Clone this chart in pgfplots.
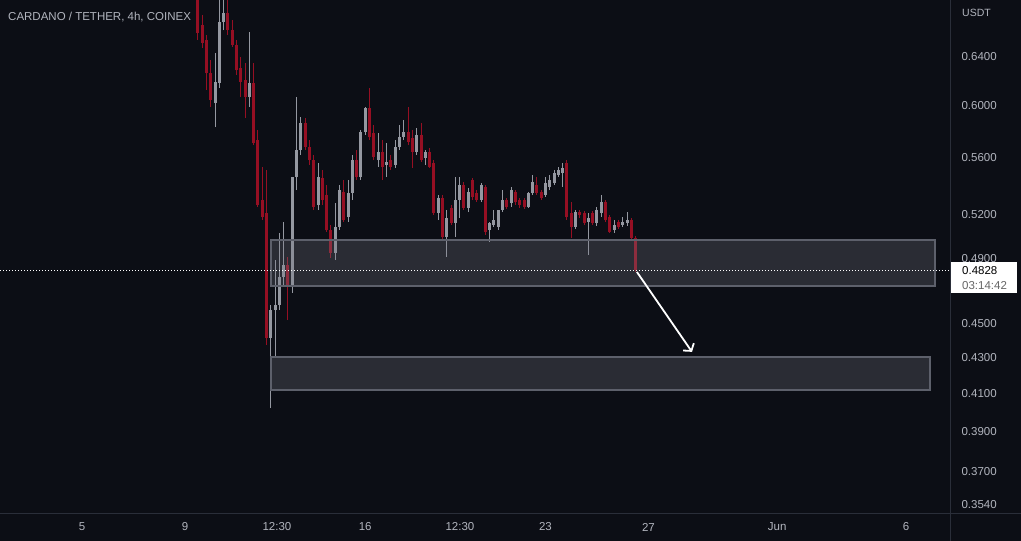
\documentclass[border=0pt]{standalone}
\usepackage{pgfplots}
\pgfplotsset{compat=1.18}
\usepackage{pgfplotstable}
\usepackage{fontspec}
\setmainfont{Liberation Sans}
\usetikzlibrary{arrows.meta}

\definecolor{bg}{HTML}{0C0E15}
\definecolor{axtext}{HTML}{B2B5BE}
\definecolor{sepcol}{HTML}{2A2E39}
\definecolor{upcol}{HTML}{9598A1}
\definecolor{downcol}{HTML}{960F23}
\definecolor{zonefill}{HTML}{787B86}
\definecolor{zoneedge}{HTML}{5D606B}

% 4h candles, i = candle number from 9 May 12:00
\pgfplotstableread{
i o h l c
4 0.6022 0.6434 0.5834 0.6193
5 0.6184 0.6947 0.6143 0.6703
6 0.6703 0.6993 0.6633 0.6783
12 0.6070 0.6616 0.5991 0.6184
17 0.4415 0.4612 0.4024 0.4581
18 0.4581 0.4894 0.4305 0.4612
19 0.4612 0.5072 0.4581 0.4785
20 0.4785 0.5146 0.4735 0.4862
22 0.4723 0.4927 0.4685 0.5462
23 0.5462 0.6070 0.5368 0.5660
24 0.5660 0.5912 0.5623 0.5866
28 0.5263 0.5563 0.5228 0.5462
32 0.4940 0.5277 0.4894 0.5112
33 0.5112 0.5404 0.5092 0.5368
35 0.5180 0.5440 0.5146 0.5347
36 0.5347 0.5623 0.5298 0.5585
38 0.5462 0.5811 0.5440 0.5796
39 0.5796 0.5991 0.5773 0.5983
42 0.5585 0.5788 0.5534 0.5645
44 0.5549 0.5713 0.5462 0.5570
46 0.5549 0.5735 0.5527 0.5683
47 0.5683 0.5850 0.5660 0.5758
48 0.5758 0.5889 0.5735 0.5796
51 0.5645 0.5827 0.5623 0.5773
53 0.5600 0.5660 0.5549 0.5645
56 0.5208 0.5333 0.5160 0.5312
58 0.5045 0.5228 0.4914 0.5174
60 0.5140 0.5462 0.5045 0.5298
61 0.5298 0.5462 0.5174 0.5404
63 0.5242 0.5382 0.5214 0.5354
66 0.5298 0.5418 0.5284 0.5404
68 0.5092 0.5146 0.5012 0.5140
69 0.5126 0.5228 0.5112 0.5160
70 0.5112 0.5228 0.5092 0.5228
71 0.5228 0.5368 0.5214 0.5298
73 0.5277 0.5390 0.5249 0.5368
77 0.5249 0.5354 0.5242 0.5347
78 0.5347 0.5476 0.5333 0.5426
81 0.5333 0.5462 0.5319 0.5418
82 0.5390 0.5476 0.5368 0.5440
83 0.5418 0.5512 0.5404 0.5490
84 0.5476 0.5534 0.5462 0.5512
85 0.5490 0.5563 0.5390 0.5527
88 0.5112 0.5228 0.5099 0.5214
91 0.5146 0.5208 0.4927 0.5174
93 0.5140 0.5249 0.5119 0.5228
94 0.5208 0.5333 0.5180 0.5284
97 0.5092 0.5160 0.5072 0.5126
99 0.5126 0.5180 0.5112 0.5146
100 0.5140 0.5214 0.5119 0.5160
}\upcandles

\pgfplotstableread{
i o h l c
0 0.7040 0.7133 0.6546 0.6607
1 0.6677 0.6766 0.6477 0.6520
2 0.6546 0.6590 0.6127 0.6266
3 0.6266 0.6375 0.5991 0.6046
7 0.6783 0.6901 0.6590 0.6633
8 0.6633 0.6721 0.6486 0.6503
9 0.6503 0.6546 0.6250 0.6291
10 0.6308 0.6400 0.6070 0.6193
11 0.6209 0.6350 0.5905 0.6070
13 0.6184 0.6350 0.5697 0.5712
14 0.5735 0.5811 0.5249 0.5263
15 0.5298 0.5534 0.5160 0.5180
16 0.5208 0.5512 0.4374 0.4415
21 0.4862 0.4914 0.4521 0.4723
25 0.5866 0.5905 0.5660 0.5683
26 0.5683 0.5735 0.5549 0.5585
27 0.5585 0.5623 0.5228 0.5249
29 0.5454 0.5512 0.5263 0.5298
30 0.5333 0.5404 0.5079 0.5092
31 0.5092 0.5126 0.4907 0.4940
34 0.5354 0.5440 0.5146 0.5160
37 0.5585 0.5660 0.5440 0.5462
40 0.5983 0.6143 0.5735 0.5758
41 0.5788 0.5850 0.5585 0.5608
43 0.5645 0.5735 0.5440 0.5534
45 0.5585 0.5623 0.5512 0.5534
49 0.5796 0.5991 0.5697 0.5720
50 0.5750 0.5811 0.5527 0.5645
52 0.5773 0.5866 0.5570 0.5585
54 0.5645 0.5675 0.5527 0.5534
55 0.5563 0.5585 0.5194 0.5208
57 0.5312 0.5333 0.5025 0.5045
59 0.5242 0.5263 0.5126 0.5140
62 0.5404 0.5426 0.5228 0.5242
64 0.5440 0.5454 0.5298 0.5319
65 0.5347 0.5368 0.5284 0.5298
67 0.5390 0.5404 0.5059 0.5079
72 0.5298 0.5312 0.5235 0.5249
74 0.5354 0.5368 0.5263 0.5284
75 0.5298 0.5312 0.5242 0.5263
76 0.5298 0.5312 0.5235 0.5249
79 0.5404 0.5462 0.5333 0.5347
80 0.5354 0.5368 0.5298 0.5312
86 0.5563 0.5585 0.5160 0.5180
87 0.5208 0.5284 0.5038 0.5112
89 0.5214 0.5228 0.5174 0.5194
90 0.5208 0.5221 0.5126 0.5140
92 0.5208 0.5221 0.5126 0.5140
95 0.5284 0.5298 0.5146 0.5160
96 0.5180 0.5194 0.5072 0.5079
98 0.5146 0.5160 0.5099 0.5112
101 0.5160 0.5174 0.5025 0.5038
102 0.5038 0.5052 0.4817 0.4828
}\downcandles

\pgfplotsset{
    candle/.style n args={2}{draw=none, mark=none, forget plot,
        error bars/.cd, y dir=plus, y explicit, error mark=none,
        error bar style={draw=#1, line width=#2}},
}

\begin{document}
\begin{tikzpicture}
\fill[bg] (0pt,-27pt) rectangle (1021pt,514pt);
\begin{axis}[
    at={(0pt,0pt)}, anchor=south west,
    scale only axis, width=950pt, height=514pt,
    xmin=1.816, xmax=38.71,
    ymode=log, ymin=0.3498, ymax=0.6901,
    clip mode=individual,
    axis line style={draw=none},
    major tick length=0pt,
    xtick={5,9,12.573,16,19.68,23,27,32,37},
    xticklabels={5,9,12:30,16,12:30,23,27,Jun,6},
    ytick={0.354,0.37,0.39,0.41,0.43,0.45,0.49,0.52,0.56,0.60,0.64},
    yticklabels={0.3540,0.3700,0.3900,0.4100,0.4300,0.4500,0.4900,0.5200,0.5600,0.6000,0.6400},
    yticklabel pos=right,
    tick label style={font=\fontsize{11.5}{13}\selectfont, text=axtext},
    yticklabel style={anchor=west, xshift=8pt},
    xticklabel style={anchor=center, yshift=-13pt},
]
% wicks
\addplot[candle={upcol}{1pt}]
    table[x expr=9.5+\thisrow{i}/6, y=l, y error plus expr=\thisrow{h}-\thisrow{l}] {\upcandles};
\addplot[candle={downcol}{1pt}]
    table[x expr=9.5+\thisrow{i}/6, y=l, y error plus expr=\thisrow{h}-\thisrow{l}] {\downcandles};
% bodies
\addplot[candle={upcol}{3pt}]
    table[x expr=9.5+\thisrow{i}/6, y=o, y error plus expr=\thisrow{c}-\thisrow{o}] {\upcandles};
\addplot[candle={downcol}{3pt}]
    table[x expr=9.5+\thisrow{i}/6, y=c, y error plus expr=\thisrow{o}-\thisrow{c}] {\downcandles};
% zones
\addplot[fill=zonefill, fill opacity=0.28, draw=zoneedge, line width=1.5pt]
    coordinates {(12.34,0.4729) (38.13,0.4729) (38.13,0.5025) (12.34,0.5025)} --cycle;
\addplot[fill=zonefill, fill opacity=0.28, draw=zoneedge, line width=1.5pt]
    coordinates {(12.34,0.4121) (37.93,0.4121) (37.93,0.4305) (12.34,0.4305)} --cycle;
% last price line
\addplot[white, line width=0.9pt, dash pattern=on 1pt off 2pt]
    coordinates {(1.816,0.4828) (38.71,0.4828)};
% arrow
\addplot[white, line width=1.8pt, -{Straight Barb[length=5pt, width=13pt]}]
    coordinates {(26.55,0.4817) (28.69,0.4334)};
\end{axis}
\draw[sepcol, line width=1pt] (950pt,-27pt) -- (950pt,514pt);
\draw[sepcol, line width=1pt] (0pt,0pt) -- (1021pt,0pt);
\fill[white] (950.5pt,252pt) rectangle (1017pt,221pt);
\node[anchor=west, inner sep=0pt, text=black, font=\fontsize{11.5}{13}\selectfont] at (962pt,243pt) {0.4828};
\node[anchor=west, inner sep=0pt, text=black!60, font=\fontsize{11.5}{13}\selectfont] at (962pt,228pt) {03:14:42};
\node[anchor=west, inner sep=0pt, text=axtext, font=\fontsize{11.5}{13}\selectfont] at (8pt,497pt) {CARDANO / TETHER, 4h, COINEX};
\node[anchor=west, inner sep=0pt, text=axtext, font=\fontsize{10.5}{12}\selectfont] at (962pt,501pt) {USDT};
\pgfresetboundingbox
\useasboundingbox (0pt,-27pt) rectangle (1021pt,514pt);
\end{tikzpicture}
\end{document}
